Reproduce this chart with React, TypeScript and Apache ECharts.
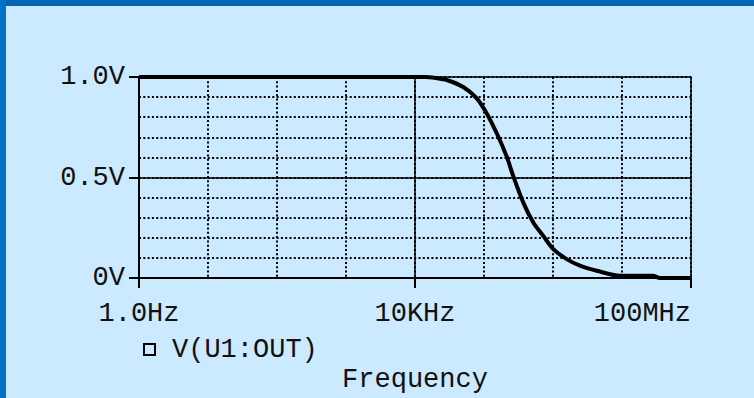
import React, { useEffect, useRef } from "react";
import * as echarts from "echarts";

// Frequency (Hz) and output voltage (V)
const freqHz: number[] = [
  1, 10000, 14000, 20000, 28800, 50000, 78000, 109000, 153000, 213000,
  266000, 371000, 518000, 720000, 1010000, 1580000, 2460000, 4300000,
  9350000, 28000000, 35500000, 100000000,
];
const voltOut: number[] = [
  1.0, 1.0, 1.0, 0.995, 0.985, 0.95, 0.895, 0.82, 0.72, 0.605,
  0.506, 0.375, 0.276, 0.21, 0.144, 0.094, 0.061, 0.036,
  0.011, 0.011, 0.0, 0.0,
];

const xTickValues: number[] = [1, 10000, 100000000];
const xTickLabels: string[] = ["1.0Hz", "10KHz", "100MHz"];
const yTickValues: number[] = [0, 0.5, 1];
const yTickLabels: string[] = ["0V", "0.5V", "1.0V"];
const seriesName = "V(U1:OUT)";
const xAxisTitle = "Frequency";

const FONT = "'Liberation Mono', 'DejaVu Sans Mono', monospace";
const DOT = { color: "#000", width: 2, type: [2, 2.3] as number[] };

export default function App() {
  const ref = useRef<HTMLDivElement>(null);
  useEffect(() => {
    if (!ref.current) return;
    const chart = echarts.init(ref.current, undefined, { renderer: "svg" });
    const data = freqHz.map((f, i) => [f, voltOut[i]]);
    chart.setOption({
      animation: false,
      backgroundColor: "#cceaff",
      textStyle: { fontFamily: FONT },
      graphic: [
        { type: "rect", left: 0, top: 0, shape: { width: 754, height: 6 }, style: { fill: "#0066b2" } },
        { type: "rect", left: 0, top: 0, shape: { width: 6, height: 398 }, style: { fill: "#0072c6" } },
      ],
      grid: {
        left: 139,
        right: 63,
        top: 77,
        bottom: 119,
        show: true,
        borderColor: "#000",
        borderWidth: 1.5,
        backgroundColor: "transparent",
      },
      legend: {
        left: 143,
        top: 336,
        padding: 0,
        data: [
          {
            name: seriesName,
            icon: "rect",
            itemStyle: { color: "#cceaff", borderColor: "#000", borderWidth: 2 },
          },
        ],
        itemWidth: 11,
        itemHeight: 11,
        textStyle: {
          fontFamily: FONT,
          fontSize: 27,
          color: "#111",
          padding: [0, 0, 0, 12],
        },
      },
      xAxis: [
        {
          type: "log",
          logBase: 10,
          min: 1,
          max: 100000000,
          name: xAxisTitle,
          nameLocation: "middle",
          nameGap: 88,
          nameTextStyle: { fontFamily: FONT, fontSize: 27, color: "#111" },
          axisLine: { show: true, onZero: false, lineStyle: { color: "#000", width: 2 } },
          axisTick: { show: true, length: 10, customValues: xTickValues, lineStyle: { color: "#000", width: 2 } },
          axisLabel: {
            customValues: xTickValues,
            margin: 22,
            fontFamily: FONT,
            fontSize: 27,
            color: "#111",
            alignMaxLabel: "right",
            formatter: (v: number) => {
              const i = xTickValues.findIndex((t) => Math.abs(Math.log10(t) - Math.log10(v)) < 1e-6);
              return i >= 0 ? xTickLabels[i] : "";
            },
          },
          splitLine: { show: false },
          z: 4,
        },
        {
          type: "log",
          logBase: 10,
          min: 1,
          max: 100000000,
          position: "top",
          axisLine: { show: false },
          axisTick: { show: false },
          axisLabel: { show: false },
          splitLine: { show: true, lineStyle: DOT },
        },
      ],
      yAxis: [
        {
          type: "value",
          min: 0,
          max: 1,
          interval: 0.5,
          axisLine: { show: true, lineStyle: { color: "#000", width: 2 } },
          axisTick: { show: true, length: 10, customValues: yTickValues, lineStyle: { color: "#000", width: 2 } },
          axisLabel: {
            customValues: yTickValues,
            margin: 14,
            fontFamily: FONT,
            fontSize: 27,
            color: "#111",
            formatter: (v: number) => {
              const i = yTickValues.findIndex((t) => Math.abs(t - v) < 1e-6);
              return i >= 0 ? yTickLabels[i] : "";
            },
          },
          splitLine: { show: false },
          z: 4,
        },
        {
          type: "value",
          min: 0,
          max: 1,
          interval: 0.1,
          position: "right",
          axisLine: { show: false },
          axisTick: { show: false },
          axisLabel: { show: false },
          splitLine: { show: true, lineStyle: DOT },
        },
      ],
      series: [
        {
          name: seriesName,
          type: "line",
          xAxisIndex: 0,
          yAxisIndex: 0,
          data,
          showSymbol: false,
          symbol: "none",
          smooth: 0.3,
          lineStyle: { color: "#000", width: 4 },
          itemStyle: { color: "#000" },
          z: 5,
          markLine: {
            silent: true,
            symbol: "none",
            label: { show: false },
            lineStyle: { color: "#000", width: 1.5, type: "solid" },
            data: [{ yAxis: 0.5 }, { xAxis: 10000 }],
          },
        },
      ],
    });
    return () => chart.dispose();
  }, []);
  return (
    <div
      ref={ref}
      style={{ position: "fixed", left: 0, top: 0, width: 754, height: 398 }}
    />
  );
}
